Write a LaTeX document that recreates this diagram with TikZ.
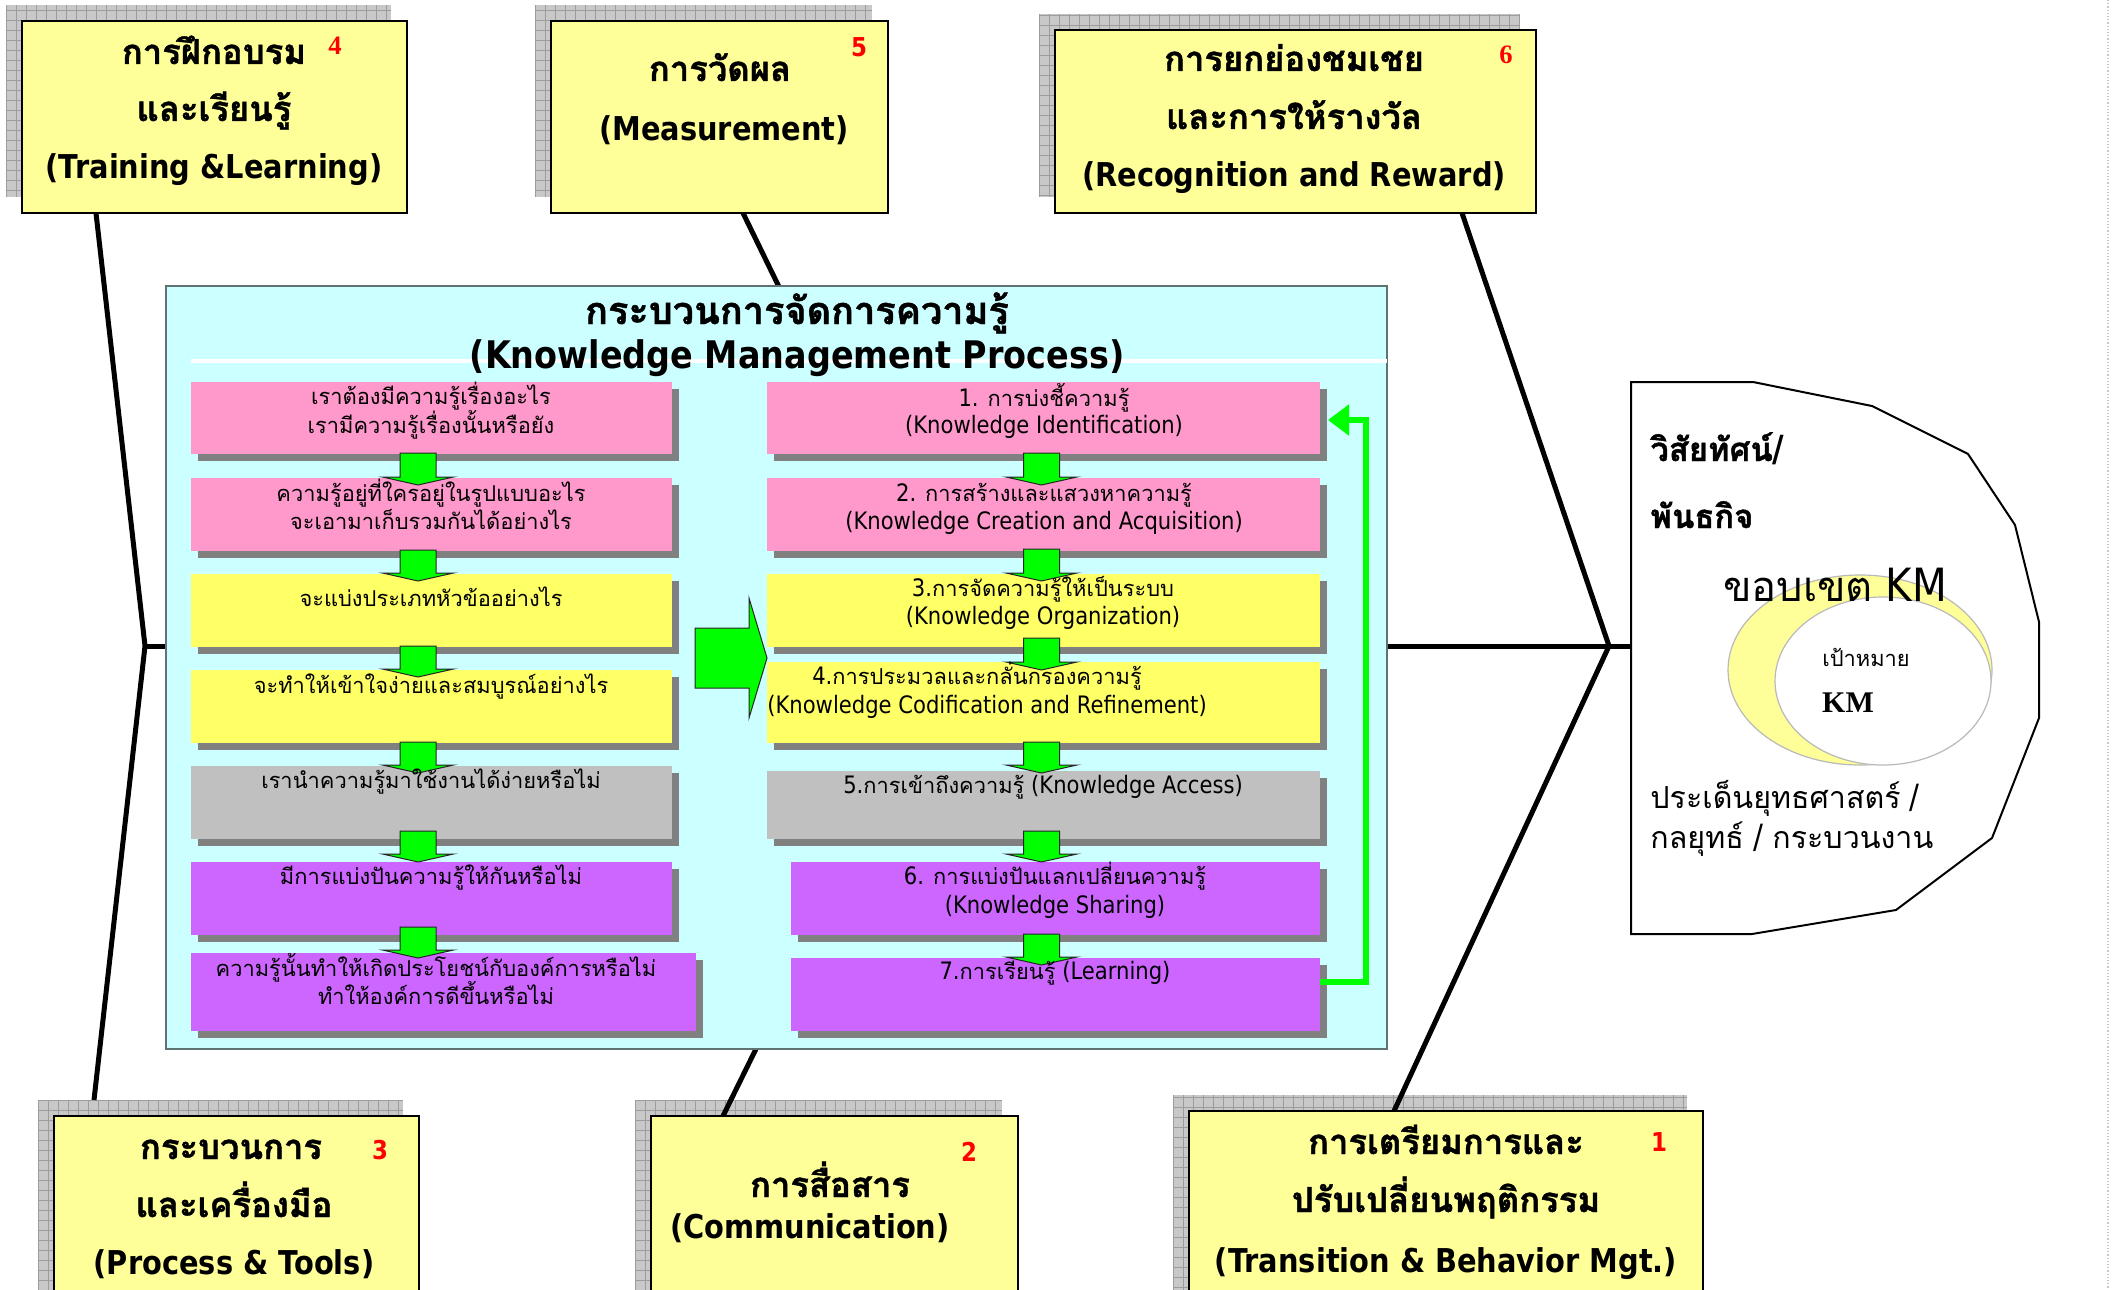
\documentclass[tikz,border=0pt]{standalone}
\usepackage{fontspec}
\setmainfont[FakeStretch=0.88]{DejaVu Sans}
\newfontfamily\thfont[Script=Thai,Scale=0.91,BoldFeatures={FakeBold=1.2}]{Loma}
\newfontfamily\tmsfont{Liberation Serif}
\newcommand{\tht}[1]{{\thfont #1}}
\usetikzlibrary{fit,shadows,calc,arrows.meta}
\definecolor{oyel}{HTML}{FFFF99}
\definecolor{iyel}{HTML}{FFFF66}
\definecolor{ipink}{HTML}{FF99CC}
\definecolor{igray}{HTML}{C0C0C0}
\definecolor{ipurp}{HTML}{CC66FF}
\definecolor{shc}{HTML}{808080}
\definecolor{gshc}{HTML}{C8C8C8}
\definecolor{glc}{HTML}{9C9C9C}
\definecolor{ggreen}{HTML}{00FF00}
\definecolor{kmcyan}{HTML}{CCFFFF}
\definecolor{kmedge}{HTML}{5F7373}
\newcommand\dnarrow[5]{%
  \path[garrow] let \p1=($(#1.south)+(#3,#4)$), \p2=($(#2.north)+(#3,#5)$) in
    (\x1-9pt,\y1) -- (\x1+9pt,\y1) -- (\x1+9pt,\y2+4pt) -- (\x1+17.75pt,\y2+4pt)
    -- (\x1,\y2) -- (\x1-17.75pt,\y2+4pt) -- (\x1-9pt,\y2+4pt) -- cycle;}
\begin{document}
\begin{tikzpicture}[x=0.5pt,y=-0.5pt,
  box/.style={inner sep=0pt,outer sep=0pt},
  gsh/.style={box,fill=gshc,path picture={\draw[glc,line width=0.5pt] (path picture bounding box.south west) grid[step=5pt] (path picture bounding box.north east);}},
  obox/.style={box,fill=oyel,draw=black,line width=0.9pt},
  ibox/.style={box,drop shadow={shadow xshift=3.5pt,shadow yshift=-3.5pt,fill=shc,opacity=1}},
  bone/.style={line width=2.5pt,black},
  garrow/.style={fill=ggreen,draw=black!85,line width=0.5pt},
  fb/.style={draw=ggreen,line width=2.6pt,-{Triangle[length=10.5pt,width=15pt]}},
  otx/.style={anchor=base,inner sep=0pt,font=\fontsize{16.4}{19}\selectfont\bfseries},
  otxT/.style={anchor=base,inner sep=0pt,font=\fontsize{19}{22}\selectfont\bfseries},
  ttl/.style={anchor=base,inner sep=0pt,font=\fontsize{19}{22}\selectfont\bfseries},
  ttlT/.style={anchor=base,inner sep=0pt,font=\fontsize{20.8}{24}\selectfont\bfseries},
  itx/.style={anchor=base,inner sep=0pt,font=\fontsize{12}{14}\selectfont},
  rnum/.style={anchor=base,inner sep=0pt,text=red,font=\fontsize{13}{15}\selectfont\bfseries},
  rnums/.style={anchor=base,inner sep=0pt,text=red,font=\tmsfont\fontsize{13.3}{15}\selectfont\bfseries},
  vtx/.style={anchor=base west,inner sep=0pt}]
\useasboundingbox (0,0) rectangle (2123,1289);
\clip (0,0) rectangle (2123,1289);
\fill[white] (0,0) rectangle (2123,1289);
\draw[gray!45,line width=0.6pt,densely dotted] (2108,0) -- (2108,1289);
% grid shadows of the outer boxes
\node[gsh,fit={(6,5)(391,197)}] (s4) {};
\node[gsh,fit={(535,5)(872,197)}] (s5) {};
\node[gsh,fit={(1039,14)(1520,197)}] (s6) {};
\node[gsh,fit={(38,1100)(403,1320)}] (s3) {};
\node[gsh,fit={(635,1100)(1002,1320)}] (s2) {};
\node[gsh,fit={(1173,1095)(1687,1320)}] (s1) {};
% outer boxes
\node[obox,fit={(22,21)(407,213)}] (b4) {};
\node[obox,fit={(551,21)(888,213)}] (b5) {};
\node[obox,fit={(1055,30)(1536,213)}] (b6) {};
\node[obox,fit={(54,1116)(419,1336)}] (b3) {};
\node[obox,fit={(651,1116)(1018,1336)}] (b2) {};
\node[obox,fit={(1189,1111)(1703,1336)}] (b1) {};
% fishbone
\coordinate (jl) at (145,646);
\coordinate (jm) at (954,646);
\coordinate (jr) at (1609,646);
\coordinate (vis) at (1631,646);
\draw[bone] (jl) -- (vis);
\draw[bone] ([xshift=37pt]b4.south west) -- (jl) -- ([xshift=28pt]s3.north west);
\draw[bone] ([xshift=96pt]b5.south west) -- (jm) -- ([xshift=36pt]b2.north west);
\draw[bone] ([xshift=203.5pt]b6.south west) -- (jr) -- ([xshift=102.5pt]b1.north west);
% outer texts
\node[otxT] (t4a) at (214,64) {\tht{การฝึกอบรม}};
\node[rnums] (n4) at (335,55) {4};
\node[otxT] (t4b) at (214,121) {\tht{และเรียนรู้}};
\node[otx] (t4c) at (214,179) {(Training \&Learning)};
\node[otxT] (t5a) at (720,81) {\tht{การวัดผล}};
\node[rnum] (n5) at (859,57) {5};
\node[otx] (t5b) at (724,141) {(Measurement)};
\node[otxT] (t6a) at (1294,71) {\tht{การยกย่องชมเชย}};
\node[rnums] (n6) at (1506,64) {6};
\node[otxT] (t6b) at (1294,129) {\tht{และการให้รางวัล}};
\node[otx] (t6c) at (1294,187) {(Recognition and Reward)};
\node[otxT] (t3a) at (231,1159) {\tht{กระบวนการ}};
\node[rnum] (n3) at (380,1159) {3};
\node[otxT] (t3b) at (234,1217) {\tht{และเครื่องมือ}};
\node[otx] (t3c) at (234,1274) {(Process \& Tools)};
\node[rnum] (n2) at (969,1161) {2};
\node[otxT] (t2a) at (830,1197) {\tht{การสื่อสาร}};
\node[otx] (t2b) at (810,1238) {(Communication)};
\node[otxT] (t1a) at (1446,1154) {\tht{การเตรียมการและ}};
\node[rnum] (n1) at (1659,1151) {1};
\node[otxT] (t1b) at (1446,1212) {\tht{ปรับเปลี่ยนพฤติกรรม}};
\node[otx] (t1c) at (1446,1272) {(Transition \& Behavior Mgt.)};
% knowledge management process box
\node[box,fill=kmcyan,draw=kmedge,line width=0.7pt,fit={(166,286)(1387,1049)}] (km) {};
\draw[white,line width=2pt] (191,361) -- (1387,361);
\node[ttlT] (ttl1) at (797,324) {\tht{กระบวนการจัดการความรู้}};
\node[ttl] (ttl2) at (797,368) {(Knowledge Management Process)};
% inner boxes
\node[ibox,fill=ipink,fit={(191,382)(672,454)}] (L1) {};
\node[ibox,fill=ipink,fit={(191,478)(672,551)}] (L2) {};
\node[ibox,fill=iyel,fit={(191,574)(672,647)}] (L3) {};
\node[ibox,fill=iyel,fit={(191,670)(672,743)}] (L4) {};
\node[ibox,fill=igray,fit={(191,766)(672,839)}] (L5) {};
\node[ibox,fill=ipurp,fit={(191,862)(672,935)}] (L6) {};
\node[ibox,fill=ipurp,fit={(191,953)(696,1031)}] (L7) {};
\node[ibox,fill=ipink,fit={(767,382)(1320,454)}] (R1) {};
\node[ibox,fill=ipink,fit={(767,478)(1320,551)}] (R2) {};
\node[ibox,fill=iyel,fit={(767,574)(1320,647)}] (R3) {};
\node[ibox,fill=iyel,fit={(767,662)(1320,743)}] (R4) {};
\node[ibox,fill=igray,fit={(767,771)(1320,839)}] (R5) {};
\node[ibox,fill=ipurp,fit={(791,862)(1320,935)}] (R6) {};
\node[ibox,fill=ipurp,fit={(791,958)(1320,1031)}] (R7) {};
% down arrows
\dnarrow{L1}{L2}{-13.5}{-1}{7}
\dnarrow{L2}{L3}{-13.5}{-1}{7}
\dnarrow{L3}{L4}{-13.5}{-1}{7}
\dnarrow{L4}{L5}{-13.5}{-1}{7}
\dnarrow{L5}{L6}{-13.5}{-8}{0}
\dnarrow{L6}{L7}{-13.5}{-8}{5}
\dnarrow{R1}{R2}{-2}{-1}{7}
\dnarrow{R2}{R3}{-2}{-2}{7}
\dnarrow{R3}{R4}{-2}{-9}{8}
\dnarrow{R4}{R5}{-2}{-1}{2}
\dnarrow{R5}{R6}{-2}{-8}{0}
\dnarrow{R6}{R7}{-14}{-1}{7}
% big right arrow
\draw[garrow] (695,628) -- (749,628) -- (749,598) -- (767,658) -- (749,718) -- (749,688) -- (695,688) -- cycle;
% feedback
\draw[fb] ([yshift=6.25pt]R7.east) -- ++(46,0) |- ([shift={(4pt,-1pt)}]R1.east);
% inner texts
\node[itx] (l1a) at (431,404) {\tht{เราต้องมีความรู้เรื่องอะไร}};
\node[itx] (l1b) at (431,433) {\tht{เรามีความรู้เรื่องนั้นหรือยัง}};
\node[itx] (l2a) at (431,501) {\tht{ความรู้อยู่ที่ใครอยู่ในรูปแบบอะไร}};
\node[itx] (l2b) at (431,529) {\tht{จะเอามาเก็บรวมกันได้อย่างไร}};
\node[itx] (l3a) at (431,606) {\tht{จะแบ่งประเภทหัวข้ออย่างไร}};
\node[itx] (l4a) at (431,693) {\tht{จะทำให้เข้าใจง่ายและสมบูรณ์อย่างไร}};
\node[itx] (l5a) at (431,788) {\tht{เรานำความรู้มาใช้งานได้ง่ายหรือไม่}};
\node[itx] (l6a) at (431,884) {\tht{มีการแบ่งปันความรู้ให้กันหรือไม่}};
\node[itx] (l7a) at (436,976) {\tht{ความรู้นั้นทำให้เกิดประโยชน์กับองค์การหรือไม่}};
\node[itx] (l7b) at (436,1004) {\tht{ทำให้องค์การดีขึ้นหรือไม่}};
\node[itx] (r1a) at (1044,406) {1. \tht{การบ่งชี้ความรู้}};
\node[itx] (r1b) at (1044,433) {(Knowledge Identification)};
\node[itx] (r2a) at (1044,501) {2. \tht{การสร้างและแสวงหาความรู้}};
\node[itx] (r2b) at (1044,529) {(Knowledge Creation and Acquisition)};
\node[itx] (r3a) at (1043,596) {3.\tht{การจัดความรู้ให้เป็นระบบ}};
\node[itx] (r3b) at (1043,624) {(Knowledge Organization)};
\node[itx] (r4a) at (977,684) {4.\tht{การประมวลและกลั่นกรองความรู้}};
\node[itx] (r4b) at (987,713) {(Knowledge Codification and Refinement)};
\node[itx] (r5a) at (1043,793) {5.\tht{การเข้าถึงความรู้} (Knowledge Access)};
\node[itx] (r6a) at (1055,884) {6. \tht{การแบ่งปันแลกเปลี่ยนความรู้}};
\node[itx] (r6b) at (1055,913) {(Knowledge Sharing)};
\node[itx] (r7a) at (1055,979) {7.\tht{การเรียนรู้} (Learning)};
% vision / mission shape
\draw[line width=1pt,fill=white] (1631,382) -- (1753,382) -- (1872,406) -- (1968,454) -- (2015,525) -- (2039,622) -- (2039,718) -- (1992,838) -- (1896,910) -- (1752,934) -- (1631,934) -- cycle;
\draw[fill=oyel,draw=gray!55,line width=0.6pt] (1860,670) ellipse [x radius=132,y radius=95];
\draw[fill=white,draw=gray!55,line width=0.6pt] (1883,681) ellipse [x radius=108,y radius=84];
\node[vtx,font=\fontsize{18}{21}\selectfont\bfseries] (v1) at (1650,461) {\tht{วิสัยทัศน์}/};
\node[vtx,font=\fontsize{18}{21}\selectfont\bfseries] (v2) at (1650,528) {\tht{พันธกิจ}};
\node[anchor=base,inner sep=0pt,font=\fontsize{22.9}{26}\selectfont] (kmscope) at (1835,601) {\tht{ขอบเขต} KM};
\node[anchor=base,inner sep=0pt,font=\fontsize{12}{14}\selectfont] (goal) at (1866,666) {\tht{เป้าหมาย}};
\node[anchor=base,inner sep=0pt,font=\tmsfont\fontsize{15}{18}\selectfont\bfseries] (goalkm) at (1848,712) {KM};
\node[vtx,font=\fontsize{16.7}{19}\selectfont] (v3) at (1650,808) {\tht{ประเด็นยุทธศาสตร์} /};
\node[vtx,font=\fontsize{16.7}{19}\selectfont] (v4) at (1650,848) {\tht{กลยุทธ์} / \tht{กระบวนงาน}};
\end{tikzpicture}
\end{document}
